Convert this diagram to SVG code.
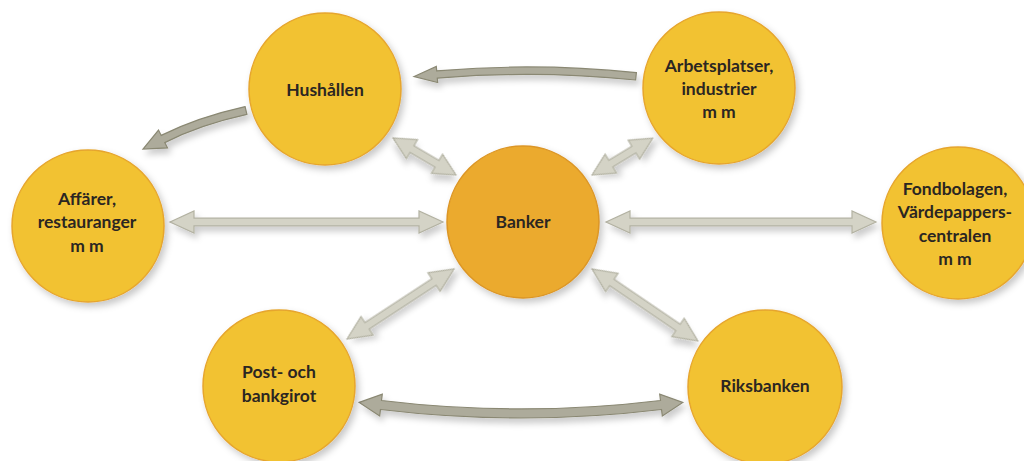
<svg xmlns="http://www.w3.org/2000/svg" width="1024" height="461" viewBox="0 0 1024 461">
<defs>
<filter id="sh" x="-30%" y="-30%" width="160%" height="160%">
<feDropShadow dx="3" dy="4" stdDeviation="3.5" flood-color="#000" flood-opacity="0.22"/>
</filter>
<filter id="ash" x="-30%" y="-60%" width="160%" height="220%">
<feDropShadow dx="3" dy="5" stdDeviation="3" flood-color="#000" flood-opacity="0.2"/>
</filter>
</defs>
<style>
.node{fill:#F2C230;stroke:#E6A52E;stroke-width:1.5;filter:url(#sh)}
.bank{fill:#EBAA2E;stroke:#DC9626;stroke-width:1.5;filter:url(#sh)}
.lbl{font-family:Lato,"Liberation Sans",sans-serif;font-weight:bold;font-size:17.5px;fill:#2B2622;text-anchor:middle}
.light{fill:#D4D3C6;stroke:#B3B2A2;stroke-width:1.2;stroke-linejoin:miter;filter:url(#ash)}
.dark{fill:#ADAB9B;stroke:#8A8873;stroke-width:1.2;stroke-linejoin:miter;filter:url(#ash)}
</style>
<g id="connectors">
<path class="dark" d="M636.4,72.6 Q536,62.3 436.7,70.8 L436.3,66.5 L414.1,76.5 L437.7,82.5 L437.3,78.2 Q536,69.8 635.6,80 Z"/>
<path class="dark" d="M245.1,106.6 Q197.3,117.3 161.2,135.4 L158.5,130.1 L143,149 L167.5,147.9 L164.8,142.6 Q199.9,124.7 246.9,114.4 Z"/>
<path class="dark" d="M359.2,402.4 L382.3,394.1 L381.5,400.5 Q521,417.4 660.5,400.5 L659.7,394.1 L682.8,402.4 L662.3,415.9 L661.5,409.5 Q521,426.5 380.5,409.5 L379.7,415.9 Z"/>
<path class="light" transform="translate(170,222)" d="M0,0 L24,-11 L24,-3.8 L249,-3.8 L249,-11 L273,0 L249,11 L249,3.8 L24,3.8 L24,11 Z"/>
<path class="light" transform="translate(606,222)" d="M0,0 L24,-11 L24,-3.8 L246,-3.8 L246,-11 L270,0 L246,11 L246,3.8 L24,3.8 L24,11 Z"/>
<path class="light" transform="translate(393,138) rotate(30.4)" d="M0,0 L22,-11 L22,-3.8 L51,-3.8 L51,-11 L73,0 L51,11 L51,3.8 L22,3.8 L22,11 Z"/>
<path class="light" transform="translate(592,175) rotate(-31.2)" d="M0,0 L22,-11 L22,-3.8 L49,-3.8 L49,-11 L71,0 L49,11 L49,3.8 L22,3.8 L22,11 Z"/>
<path class="light" transform="translate(347,339) rotate(-33.2)" d="M0,0 L24,-11 L24,-3.8 L104,-3.8 L104,-11 L128,0 L104,11 L104,3.8 L24,3.8 L24,11 Z"/>
<path class="light" transform="translate(592,269) rotate(34.2)" d="M0,0 L24,-11 L24,-3.8 L104,-3.8 L104,-11 L128,0 L104,11 L104,3.8 L24,3.8 L24,11 Z"/>
</g>
<g id="hushallen">
<circle class="node" cx="325" cy="89" r="76"/>
<text class="lbl" x="325" y="96">Hushållen</text>
</g>
<g id="arbetsplatser">
<circle class="node" cx="719" cy="88" r="76"/>
<text class="lbl" x="719" y="72">Arbetsplatser,</text>
<text class="lbl" x="719" y="95">industrier</text>
<text class="lbl" x="719" y="118">m m</text>
</g>
<g id="affarer">
<circle class="node" cx="88" cy="226" r="76"/>
<text class="lbl" x="87" y="205">Affärer,</text>
<text class="lbl" x="87" y="228">restauranger</text>
<text class="lbl" x="87" y="252">m m</text>
</g>
<g id="banker">
<circle class="bank" cx="523" cy="222" r="76"/>
<text class="lbl" x="523" y="228">Banker</text>
</g>
<g id="fondbolagen">
<circle class="node" cx="958" cy="223" r="76"/>
<text class="lbl" x="955" y="195">Fondbolagen,</text>
<text class="lbl" x="955" y="218">Värdepappers-</text>
<text class="lbl" x="955" y="242">centralen</text>
<text class="lbl" x="955" y="265">m m</text>
</g>
<g id="postgirot">
<circle class="node" cx="279" cy="386" r="76"/>
<text class="lbl" x="279" y="378">Post- och</text>
<text class="lbl" x="279" y="402">bankgirot</text>
</g>
<g id="riksbanken">
<circle class="node" cx="765" cy="387" r="77"/>
<text class="lbl" x="765" y="392">Riksbanken</text>
</g>
</svg>
